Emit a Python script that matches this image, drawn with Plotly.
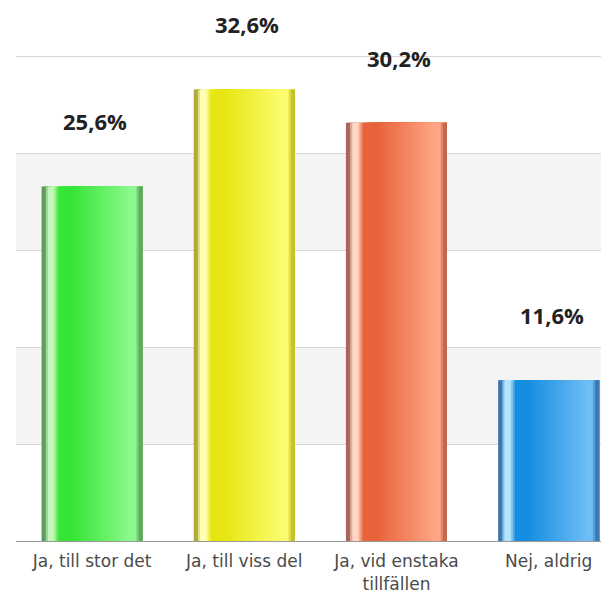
import plotly.graph_objects as go

# ---- data ----
categories = ["Ja, till stor det", "Ja, till viss del", "Ja, vid enstaka<br>tillfällen", "Nej, aldrig"]
values = [25.6, 32.6, 30.2, 11.6]
value_labels = ["25,6%", "32,6%", "30,2%", "11,6%"]
grid_step = 7

# ---- style ----
# cylinder-like shading: (edge, highlight, body, light, right edge)
palettes = [
    ["#5c9c5c", "#c4f7b8", "#36e536", "#8cf98c", "#62a862"],
    ["#b0a838", "#ffffb8", "#e6e612", "#fcfc70", "#c8c228"],
    ["#a8665a", "#ffd6c2", "#e8623a", "#ffa584", "#c0684e"],
    ["#3a76ae", "#b4e6ff", "#168ee0", "#6ebdf5", "#3a78b8"],
]
stops = [(0.00, 0), (0.03, 0), (0.065, 1), (0.12, 1), (0.17, 2), (0.30, 2),
         (0.88, 3), (0.93, 3), (0.97, 4), (1.00, 4)]


def hex2rgb(h):
    h = h.lstrip("#")
    return [int(h[i:i + 2], 16) for i in (0, 2, 4)]


def shade(pal, f):
    for (f0, i0), (f1, i1) in zip(stops[:-1], stops[1:]):
        if f0 <= f <= f1:
            t = 0 if f1 == f0 else (f - f0) / (f1 - f0)
            a, b = hex2rgb(pal[i0]), hex2rgb(pal[i1])
            c = [round(a[j] + (b[j] - a[j]) * t) for j in range(3)]
            return "rgb(%d,%d,%d)" % tuple(c)
    return pal[-1]


xs = list(range(len(categories)))
bar_w = 0.664
n_stripes = 48
step = bar_w / n_stripes

fig = go.Figure()
for k in range(n_stripes):
    f = (k + 0.5) / n_stripes
    fig.add_trace(go.Bar(
        x=xs, y=values,
        offset=-bar_w / 2 + k * step,
        width=bar_w - k * step,
        marker=dict(color=[shade(p, f) for p in palettes], line=dict(width=0)),
        hoverinfo="skip", showlegend=False,
    ))

y_max = 39.06
shapes = []
lvl = grid_step
while lvl + grid_step <= y_max:
    shapes.append(dict(type="rect", xref="paper", x0=0, x1=1, yref="y",
                       y0=lvl, y1=lvl + grid_step, fillcolor="#f4f4f4",
                       line=dict(width=0), layer="below"))
    lvl += 2 * grid_step

annotations = [
    dict(x=x, y=v, text=t, showarrow=False, yanchor="middle", yshift=65, xshift=3,
         font=dict(family="Open Sans", size=22, color="#222222", weight="bold"))
    for x, v, t in zip(xs, values, value_labels)
]

fig.update_layout(
    width=601, height=592,
    margin=dict(l=16, r=0, t=0, b=51, pad=0, autoexpand=False),
    paper_bgcolor="white", plot_bgcolor="white",
    barmode="overlay",
    shapes=shapes,
    annotations=annotations,
    xaxis=dict(range=[-0.5, 3.344], tickvals=xs, ticktext=categories,
               showgrid=False, zeroline=False, showline=True, linecolor="#999999",
               linewidth=1, ticks="", ticklabelstandoff=5, automargin=False,
               tickfont=dict(family="DejaVu Sans", size=17, color="#4a4a4a")),
    yaxis=dict(range=[0, y_max], dtick=grid_step, showgrid=True, gridcolor="#d6d6d6",
               gridwidth=1, zeroline=False, showticklabels=False, ticks="",
               automargin=False),
)

fig.write_html("out.html", config={"displayModeBar": False},
               post_script="document.body.style.margin='0';")
